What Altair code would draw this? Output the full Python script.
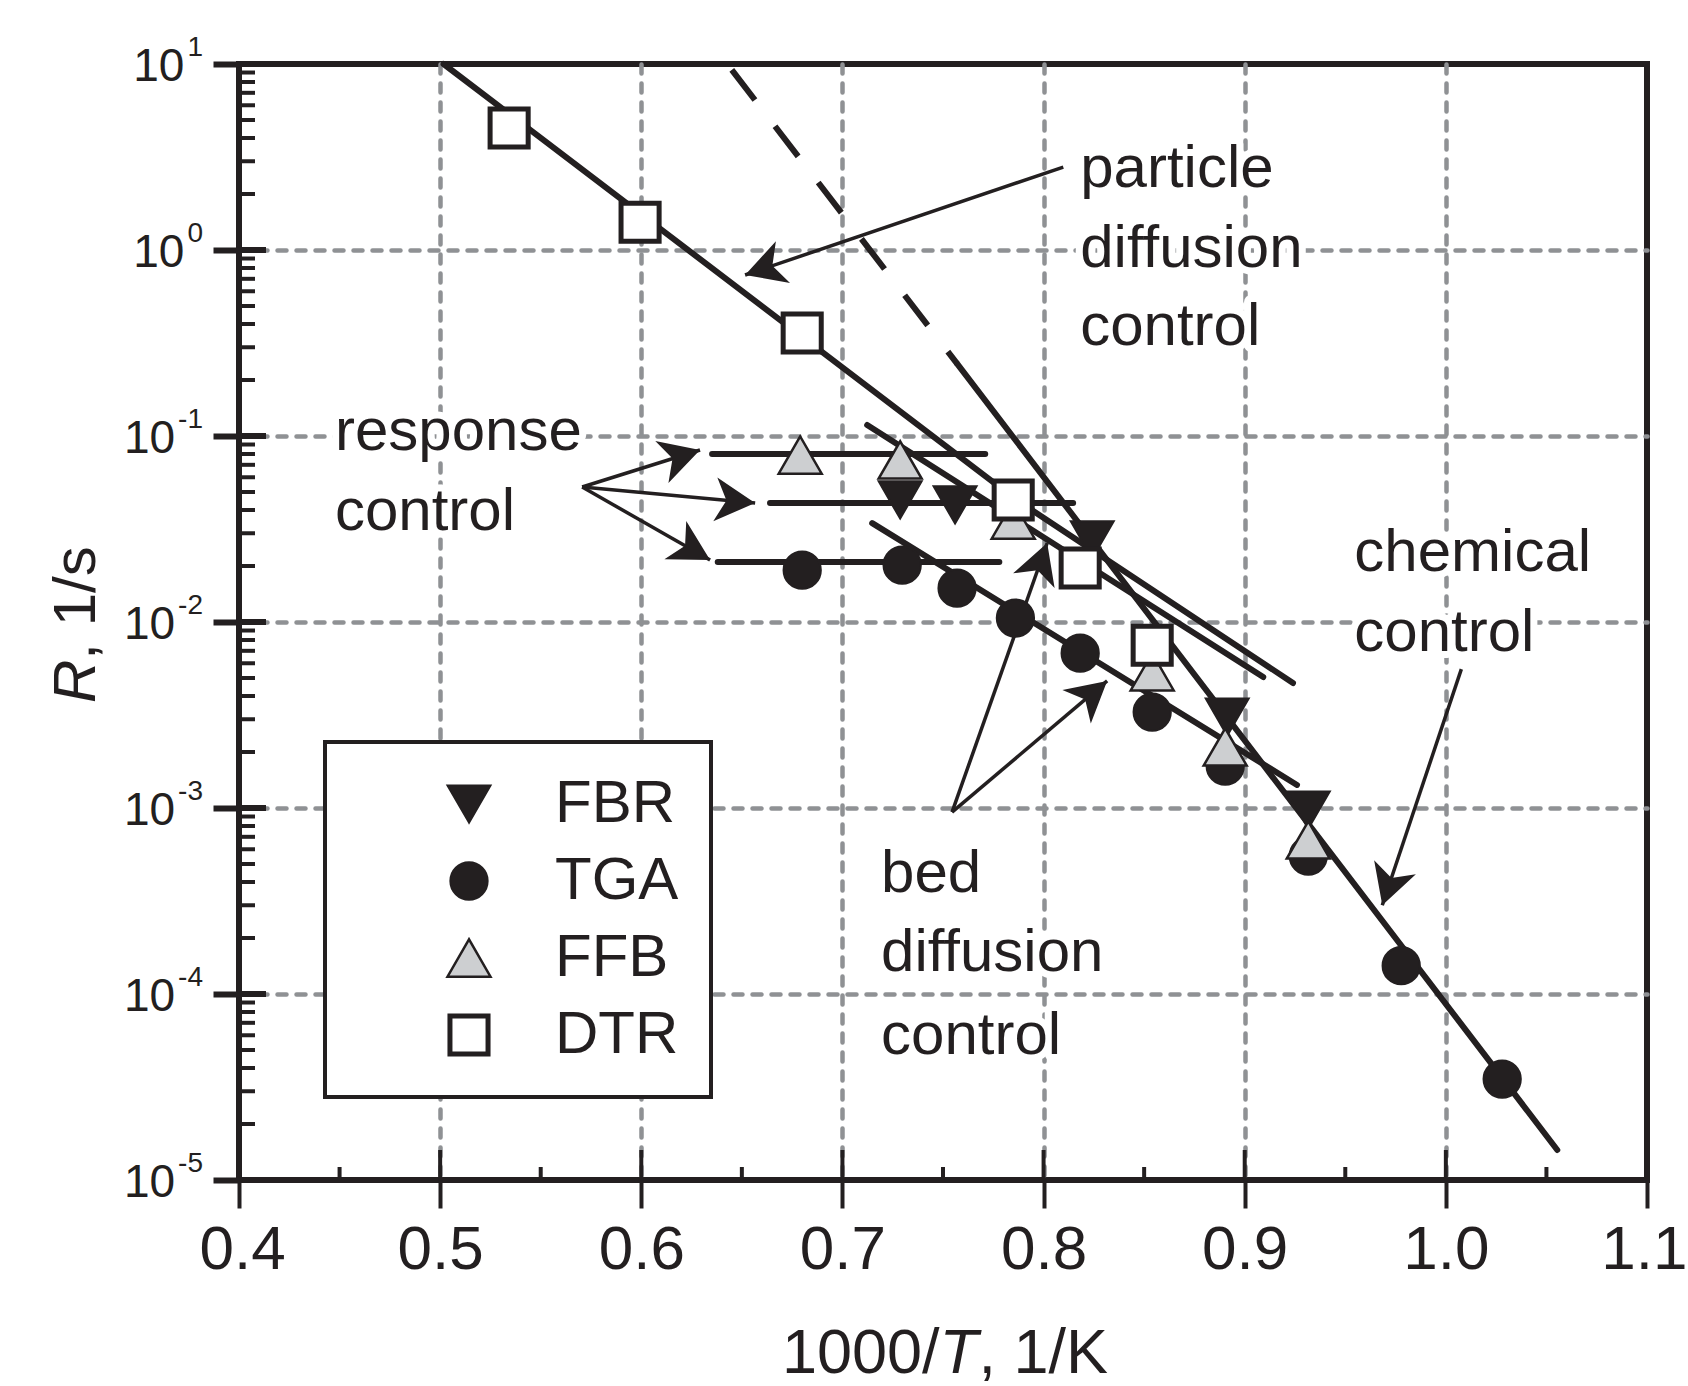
import math
import altair as alt
import numpy as np
import pandas as pd

FONT = "Liberation Sans"
INK = "#231f20"
GRID = "#8f9194"
W, H = 1408, 1116
X_DOMAIN = [0.4, 1.1]
Y_DOMAIN = [1e-5, 10.0]

# ---------------- data ----------------
series = ["FBR", "TGA", "FFB", "DTR"]
shapes = ["triangle-down", "circle", "triangle-up", "square"]
fills = [INK, INK, "#cdcfd1", "#ffffff"]
sizes = [1850, 1390, 1850, 1450]
stroke_widths = [2, 2, 2.5, 5]

fbr_x = [0.7287, 0.756, 0.8242, 0.8913, 0.9316]
fbr_y = [0.0453, 0.0426, 0.0276, 0.00308, 0.000975]
tga_x = [0.68, 0.7297, 0.757, 0.786, 0.8182, 0.854, 0.8903, 0.9316, 0.9778, 1.028]
tga_y = [0.019, 0.0202, 0.0152, 0.0105, 0.0068, 0.00328, 0.00168, 0.000552, 0.000142, 3.49e-5]
ffb_x = [0.679, 0.7287, 0.7849, 0.854, 0.8903, 0.9316]
ffb_y = [0.079, 0.0743, 0.0353, 0.0054, 0.00213, 0.000673]
dtr_x = [0.5343, 0.5994, 0.68, 0.7849, 0.8182, 0.854]
dtr_y = [4.53, 1.41, 0.358, 0.0453, 0.0195, 0.0075]

# fitted regime lines
dtr_fit_x = [0.5017, 0.787, 0.924]
dtr_fit_y = [10.0, 0.045, 0.0047]
chem_dash_x = [0.645, 0.757]
chem_dash_y = [9.3, 0.245]
chem_x = [0.757, 1.0554]
chem_y = [0.245, 1.45e-5]
fbr_bed_x = [0.7123, 0.9092]
fbr_bed_y = [0.1146, 0.00506]
tga_bed_x = [0.7148, 0.926]
tga_bed_y = [0.034, 0.00133]
ffb_resp_x = [0.6352, 0.771]
ffb_resp_y = [0.080, 0.080]
fbr_resp_x = [0.664, 0.8147]
fbr_resp_y = [0.0436, 0.0436]
tga_resp_x = [0.638, 0.778]
tga_resp_y = [0.02104, 0.02104]

# annotation arrows: tail -> tip
arrow_ids = ["particle", "resp1", "resp2", "resp3", "bed1", "bed2", "chem"]
arrow_tail_x = [0.8098, 0.5706, 0.5706, 0.5706, 0.7545, 0.7545, 1.0077]
arrow_tail_y = [2.79, 0.0532, 0.0532, 0.0532, 0.00095, 0.00095, 0.00558]
arrow_tip_x = [0.6516, 0.6292, 0.6566, 0.6342, 0.8018, 0.8316, 0.9684]
arrow_tip_y = [0.734, 0.0841, 0.0436, 0.02154, 0.0266, 0.00482, 0.0003]

# annotation text lines
ann_text = ["particle", "diffusion", "control", "response", "control",
            "chemical", "control", "bed", "diffusion", "control"]
ann_x = [0.8182, 0.8182, 0.8182, 0.4477, 0.4477, 0.9545, 0.9545, 0.7192, 0.7192, 0.7192]
ann_y = [2.182, 0.810, 0.3085, 0.0841, 0.03126, 0.01879, 0.006982, 0.000353, 0.000133, 4.75e-5]

x_ticks = [0.4, 0.5, 0.6, 0.7, 0.8, 0.9, 1.0, 1.1]
x_minor = [0.45, 0.55, 0.65, 0.75, 0.85, 0.95, 1.05]
y_exps = [1, 0, -1, -2, -3, -4, -5]

# ---------------- helpers ----------------
def px(x):
    return (x - X_DOMAIN[0]) / (X_DOMAIN[1] - X_DOMAIN[0]) * W


def py(y):
    ly0, ly1 = math.log10(Y_DOMAIN[0]), math.log10(Y_DOMAIN[1])
    return (ly1 - math.log10(y)) / (ly1 - ly0) * H


grid_common = dict(grid=True, gridColor=GRID, gridWidth=4.5, gridDash=[9, 10], gridCap="round")

x_axis = alt.Axis(
    values=x_ticks, format=".1f", title=None, domain=False,
    gridOpacity={"condition": {"test": "datum.value < 0.45 || datum.value > 1.05", "value": 0}, "value": 1},
    ticks=True, tickSize=28, tickWidth=4, tickColor=INK,
    labelFont=FONT, labelFontSize=62, labelColor=INK, labelPadding=11,
    labelFlush=True, labelFlushOffset=40, labelOverlap=False, **grid_common,
)
y_axis = alt.Axis(
    values=[10.0 ** e for e in y_exps], labels=False, title=None, domain=False,
    gridOpacity={"condition": {"test": "datum.value > 5 || datum.value < 2e-5", "value": 0}, "value": 1},
    ticks=True, tickSize=26, tickWidth=6, tickColor=INK, **grid_common,
)

X = alt.X("x:Q", scale=alt.Scale(domain=X_DOMAIN, nice=False, zero=False), axis=x_axis)
Y = alt.Y("y:Q", scale=alt.Scale(type="log", domain=Y_DOMAIN, nice=False), axis=y_axis)

# ---------------- data frames ----------------
pts_rows = []
for s, xs, ys in [("TGA", tga_x, tga_y), ("FBR", fbr_x, fbr_y), ("FFB", ffb_x, ffb_y), ("DTR", dtr_x, dtr_y)]:
    for a, b in zip(xs, ys):
        pts_rows.append({"series": s, "x": a, "y": b})
pts = pd.DataFrame(pts_rows)

solid_rows = []
for lid, xs, ys in [("dtr", dtr_fit_x, dtr_fit_y), ("chem", chem_x, chem_y),
                    ("fbr_bed", fbr_bed_x, fbr_bed_y), ("tga_bed", tga_bed_x, tga_bed_y),
                    ("ffb_resp", ffb_resp_x, ffb_resp_y), ("fbr_resp", fbr_resp_x, fbr_resp_y),
                    ("tga_resp", tga_resp_x, tga_resp_y)]:
    for i, (a, b) in enumerate(zip(xs, ys)):
        solid_rows.append({"id": lid, "x": a, "y": b, "o": i})
solid = pd.DataFrame(solid_rows)
dashed = pd.DataFrame({"id": "chem_dash", "x": chem_dash_x, "y": chem_dash_y, "o": [0, 1]})

arr_rows, head_rows = [], []
for aid, tx, ty, hx, hy in zip(arrow_ids, arrow_tail_x, arrow_tail_y, arrow_tip_x, arrow_tip_y):
    arr_rows.append({"id": aid, "x": tx, "y": ty, "o": 0})
    arr_rows.append({"id": aid, "x": hx, "y": hy, "o": 1})
    dx = px(hx) - px(tx)
    dy = py(hy) - py(ty)
    ang = math.degrees(math.atan2(dx, -dy)) % 360
    head_rows.append({"id": aid, "x": hx, "y": hy, "angle": ang})
arr = pd.DataFrame(arr_rows)
heads = pd.DataFrame(head_rows)

ann = pd.DataFrame({"t": ann_text, "x": ann_x, "y": ann_y})

# y tick labels 10^n
DIG, HYP = 0.556, 0.333
sup_fs, base_fs = 28, 46
ylab_rows = []
for e in y_exps:
    s = str(e)
    w = sum(HYP if c == "-" else DIG for c in s) * sup_fs
    ylab_rows.append({"y": 10.0 ** e, "base": "10", "sup": s, "xs": -36.0, "xb": -36.0 - w - 3})
ylab = pd.DataFrame(ylab_rows)

minor_y = [m * 10.0 ** e for e in range(-5, 1) for m in range(2, 10)]

# ---------------- layers ----------------
ytick_in = alt.Chart(pd.DataFrame({"y": [10.0 ** e for e in y_exps]})).mark_rule(
    color=INK, strokeWidth=6).encode(y=Y, x=alt.value(0), x2=alt.value(27))
ytick_minor = alt.Chart(pd.DataFrame({"y": minor_y})).mark_rule(
    color=INK, strokeWidth=4).encode(y=Y, x=alt.value(0), x2=alt.value(16))
xtick_in = alt.Chart(pd.DataFrame({"x": x_ticks})).mark_rule(
    color=INK, strokeWidth=4).encode(x=X, y=alt.value(H), y2=alt.value(H - 30))
xtick_minor = alt.Chart(pd.DataFrame({"x": x_minor})).mark_rule(
    color=INK, strokeWidth=4).encode(x=X, y=alt.value(H), y2=alt.value(H - 13))

halo = alt.Chart(ann).mark_text(
    align="left", baseline="alphabetic", font=FONT, fontSize=60,
    color="white", stroke="white", strokeWidth=14, strokeJoin="round").encode(x=X, y=Y, text="t:N")
ann_txt = alt.Chart(ann).mark_text(
    align="left", baseline="alphabetic", font=FONT, fontSize=60, color=INK).encode(x=X, y=Y, text="t:N")

solid_lines = alt.Chart(solid).mark_line(color=INK, strokeWidth=6, strokeCap="round").encode(
    x=X, y=Y, detail="id:N", order="o:Q")
dash_line = alt.Chart(dashed).mark_line(color=INK, strokeWidth=6, strokeDash=[38, 33]).encode(
    x=X, y=Y, detail="id:N", order="o:Q")

arrow_lines = alt.Chart(arr).mark_line(color=INK, strokeWidth=3.5).encode(
    x=X, y=Y, detail="id:N", order="o:Q")
arrow_heads = alt.Chart(heads).mark_point(
    shape="M0,0L0.55,1L0,0.72L-0.55,1Z", filled=True, color=INK, opacity=1, size=6400,
    strokeWidth=0).encode(x=X, y=Y, angle=alt.Angle("angle:Q", scale=None))

leg = alt.Legend(title=None)
points = alt.Chart(pts).mark_point(filled=True, opacity=1, strokeOpacity=1).encode(
    x=X, y=Y,
    shape=alt.Shape("series:N", scale=alt.Scale(domain=series, range=shapes), legend=leg),
    fill=alt.Fill("series:N", scale=alt.Scale(domain=series, range=fills), legend=leg),
    stroke=alt.Stroke("series:N", scale=alt.Scale(domain=series, range=[INK] * 4), legend=leg),
    size=alt.Size("series:N", scale=alt.Scale(type="ordinal", domain=series, range=sizes), legend=leg),
    strokeWidth=alt.StrokeWidth("series:N", scale=alt.Scale(type="ordinal", domain=series, range=stroke_widths), legend=leg),
)

ylab_base = alt.Chart(ylab).mark_text(
    align="right", baseline="alphabetic", font=FONT, fontSize=base_fs, color=INK, dy=17).encode(
    y=Y, x=alt.X("xb:Q", scale=None), text="base:N")
ylab_sup = alt.Chart(ylab).mark_text(
    align="right", baseline="alphabetic", font=FONT, fontSize=sup_fs, color=INK, dy=-8).encode(
    y=Y, x=alt.X("xs:Q", scale=None), text="sup:N")

one = pd.DataFrame({"k": [0]})
TY = 1309
xt1 = alt.Chart(one).mark_text(align="right", baseline="alphabetic", font=FONT, fontSize=63, color=INK,
                               text="1000/").encode(x=alt.value(700.6), y=alt.value(TY))
xt2 = alt.Chart(one).mark_text(align="left", baseline="alphabetic", font=FONT, fontSize=63, color=INK,
                               fontStyle="italic", text="T").encode(x=alt.value(700.6), y=alt.value(TY))
xt3 = alt.Chart(one).mark_text(align="left", baseline="alphabetic", font=FONT, fontSize=63, color=INK,
                               text=", 1/K").encode(x=alt.value(739.5), y=alt.value(TY))
yt1 = alt.Chart(one).mark_text(align="left", baseline="alphabetic", font=FONT, fontSize=60, color=INK,
                               fontStyle="italic", angle=270, text="R").encode(x=alt.value(-144), y=alt.value(639))
yt2 = alt.Chart(one).mark_text(align="left", baseline="alphabetic", font=FONT, fontSize=60, color=INK,
                               angle=270, text=", 1/s").encode(x=alt.value(-144), y=alt.value(595.7))

chart = alt.layer(
    halo, solid_lines, dash_line, arrow_lines, arrow_heads, points, ann_txt,
    ytick_in, ytick_minor, xtick_in, xtick_minor, ylab_base, ylab_sup,
    xt1, xt2, xt3, yt1, yt2,
).properties(
    width=W, height=H,
    padding={"left": 239, "top": 64, "right": 41, "bottom": 206},
    autosize=alt.AutoSizeParams(type="none"),
    background="white",
).configure_view(
    stroke=INK, strokeWidth=6,
).configure_legend(
    orient="none", legendX=86, legendY=678, padding=32,
    strokeColor=INK, strokeWidth=4, fillColor="white",
    labelFont=FONT, labelFontSize=60, labelColor=INK, labelOffset=56,
    rowPadding=17, symbolOffset=82, symbolStrokeColor=INK, labelLimit=400,
)

chart.save("out.html", embed_options={"renderer": "svg", "actions": False})
